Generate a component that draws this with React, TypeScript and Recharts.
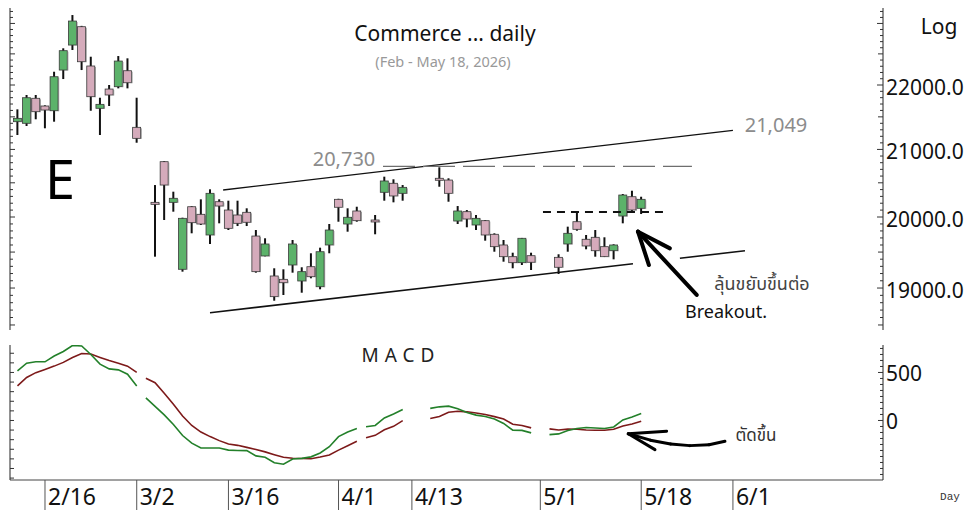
import React from 'react';
import { ComposedChart, Bar, Line, XAxis, YAxis, ReferenceLine } from 'recharts';

// ---- candles (slot = trading-weekday index from 2/11; holidays leave empty slots) ----
const candleDate = ['2/11','2/12','2/13','2/16','2/17','2/18','2/19','2/20','2/23','2/24','2/25','2/26','2/27','3/2',
  '3/4','3/5','3/6','3/9','3/10','3/11','3/12','3/13','3/16','3/17','3/18','3/19','3/20','3/23','3/24','3/25','3/26','3/27','3/30','3/31','4/1','4/2','4/3',
  '4/7','4/8','4/9','4/10',
  '4/16','4/17','4/20','4/21','4/22','4/23','4/24','4/27','4/28','4/29','4/30',
  '5/5','5/6','5/7','5/8','5/11','5/12','5/13','5/14','5/15','5/18'];
const candleSlot = [0,1,2,3,4,5,6,7,8,9,10,11,12,13,
  15,16,17,18,19,20,21,22,23,24,25,26,27,28,29,30,31,32,33,34,35,36,37,
  39,40,41,42,
  46,47,48,49,50,51,52,53,54,55,56,
  59,60,61,62,63,64,65,66,67,68];
const openPx = [21425,21400,21790,21669,21595,22239,22644,22946,22304,21633,21936,21973,22228,21338,
  20213,20815,20213,19259,20149,20039,19742,20222,20101,20029,20068,19727,19445,19166,19120,19319,19097,19295,19018,19600,20257,19899,20087,
  19957,20360,20493,20345,
  20567,20541,19942,20077,19885,19947,19752,19600,19435,19351,19449,
  19426,19614,19932,19681,19709,19576,19519,20014,20295,20126];
const highPx = [21617,21842,21842,21680,22212,22591,23140,22960,22454,21799,22000,22465,22428,21799,
  20467,20825,20369,19990,20159,20257,20404,20257,20237,20237,20126,19813,19695,19273,19259,19671,19287,19483,19562,19899,20265,20126,20149,
  20029,20591,20552,20467,
  20731,20567,20159,20101,20029,19957,19766,19671,19491,19700,19491,
  19469,19861,20077,19742,19813,19709,19610,20335,20383,20295];
const lowPx = [21220,21358,21462,21323,21425,22095,22563,22239,21595,21220,21669,21947,21947,21102,
  19435,19957,20077,19226,19766,19885,19614,19909,19813,19870,19870,19212,19440,18827,18905,19212,18936,19134,18983,19483,19932,19789,19932,
  19752,20237,20213,20237,
  20442,20222,19899,19852,19813,19661,19505,19365,19273,19319,19249,
  19194,19505,19803,19539,19435,19430,19398,19909,20077,20043];
const closePx = [21477,21799,21580,21606,22132,22552,23040,22373,21815,21695,21842,22384,22036,21169,
  20184,20467,20272,19981,19918,19899,20345,20159,19837,19909,19924,19226,19614,18882,19073,19614,19226,19156,19505,19813,20141,19996,19947,
  19932,20527,20306,20433,
  20541,20345,20087,19971,19981,19742,19576,19435,19351,19695,19357,
  19287,19766,19823,19586,19519,19435,19600,20320,20101,20257];

// ---- MACD ----
const macdSlot = [0,1,2,3,4,5,6,7,8,9,10,11,12,13,
  14,15,16,17,18,19,20,21,22,23,24,25,26,27,28,29,30,31,32,33,34,35,36,37,
  38,39,40,41,42,
  45,46,47,48,49,50,51,52,53,54,55,56,
  58,59,60,61,62,63,64,65,66,67,68];
const macdValue = [517,597,611,611,671,718,781,776,687,587,537,527,482,360,
  236,147,58,-42,-157,-236,-286,-286,-286,-309,-312,-314,-369,-383,-440,-456,-401,-395,-379,-339,-273,-168,-121,-84,
  -66,-52,26,68,115,
  126,142,149,121,84,56,42,16,-31,-102,-103,-129,
  -147,-140,-105,-84,-73,-79,-84,-68,5,37,73];
const signalValue = [360,448,498,531,566,605,655,697,692,657,624,597,566,500,
  440,393,283,168,47,-52,-121,-168,-210,-246,-259,-280,-302,-327,-356,-383,-394,-396,-398,-381,-360,-309,-264,-217,
  -181,-155,-97,-61,-2,
  21,42,86,96,90,78,63,40,16,-39,-52,-77,
  -88,-99,-90,-92,-99,-102,-102,-92,-58,-36,-7];
const macdSegmentStart = [0, 14, 38, 45, 58];

// ---- axis labels ----
const dateTickSlot = [3, 13, 23, 35, 43, 57, 68, 78];
const dateTickLabel = ['2/16', '3/2', '3/16', '4/1', '4/13', '5/1', '5/18', '6/1'];
const priceLabelValues = [19000, 20000, 21000, 22000];
const macdLabelValues = [0, 500];

const X_DOMAIN: [number, number] = [-0.815, 94.36];
const PRICE_DOMAIN: [number, number] = [18433, 23258];
const MACD_DOMAIN: [number, number] = [-620, 786];

const priceTicks: number[] = [];
for (let p = 18500; p <= 23200; p += 100) priceTicks.push(p);
const macdLeftTicks: number[] = [];
for (let v = -600; v <= 700; v += 100) macdLeftTicks.push(v);
const macdRightTicks: number[] = [];
for (let v = -562.5; v <= 750; v += 62.5) macdRightTicks.push(v);

const GREEN = '#5cb26a';
const PINK = '#d5abbb';
const FONT = "'Noto Sans', 'Open Sans', 'DejaVu Sans', sans-serif";
const THAI_FONT = "'Noto Sans Thai', 'Tahoma', 'Leelawadee UI', 'Noto Sans', 'DejaVu Sans', sans-serif";

const candles = candleSlot.map((s, i) => ({
  slot: s,
  date: candleDate[i],
  open: openPx[i],
  high: highPx[i],
  low: lowPx[i],
  close: closePx[i],
  range: [lowPx[i], highPx[i]],
}));

const macdRows: any[] = [];
for (let s = 0; s <= 68; s++) {
  const idx = macdSlot.indexOf(s);
  const row: any = { slot: s, mA: null, mB: null, sA: null, sB: null };
  if (idx >= 0) {
    let seg = 0;
    macdSegmentStart.forEach((st, k) => { if (s >= st) seg = k; });
    const key = seg % 2 === 0 ? 'A' : 'B';
    row['m' + key] = macdValue[idx];
    row['s' + key] = signalValue[idx];
  }
  macdRows.push(row);
}

const Candle = (props: any) => {
  const { x, y, width, height, payload } = props;
  if (x == null || y == null || height == null || !payload) return null;
  const cx = x + width / 2;
  const yTop = Math.min(y, y + height);
  const yBot = Math.max(y, y + height);
  const lh = Math.log(payload.high);
  const ll = Math.log(payload.low);
  const py = (p: number) => yTop + (yBot - yTop) * (lh - Math.log(p)) / (lh - ll);
  const yo = py(payload.open);
  const yc = py(payload.close);
  const top = Math.min(yo, yc);
  const bh = Math.max(Math.abs(yc - yo), 2);
  const up = payload.close >= payload.open;
  return (
    <g>
      <line x1={cx} x2={cx} y1={yTop} y2={yBot} stroke="#111" strokeWidth={2} />
      <rect x={cx - 4} y={top} width={8} height={bh} fill={up ? GREEN : PINK} stroke="#3a3a3a" strokeWidth={0.8} />
      <line x1={cx + 4.6} x2={cx + 4.6} y1={top + 1} y2={top + bh + 0.5} stroke="#777" strokeWidth={0.8} />
    </g>
  );
};

const LeftPriceTick = (props: any) => {
  const { x, y, payload } = props;
  const v = payload.value;
  const len = v % 500 === 0 ? 5 : 3;
  return <line x1={x} x2={x + len} y1={y} y2={y} stroke="#333" strokeWidth={1} />;
};

const RightPriceTick = (props: any) => {
  const { x, y, payload } = props;
  const v = payload.value;
  const major = v % 1000 === 0;
  const labelled = priceLabelValues.indexOf(v) >= 0;
  const len = major ? 6 : v % 500 === 0 ? 5 : 3;
  return (
    <g>
      <line x1={x - len} x2={x} y1={y} y2={y} stroke="#333" strokeWidth={1} />
      {labelled && (
        <text x={x + 3} y={y + 10} fontSize={21} fontFamily={FONT} fill="#111">{v.toFixed(1)}</text>
      )}
    </g>
  );
};

const LeftMacdTick = (props: any) => {
  const { x, y } = props;
  return <line x1={x} x2={x + 4} y1={y} y2={y} stroke="#333" strokeWidth={1} />;
};

const RightMacdTick = (props: any) => {
  const { x, y, payload } = props;
  const v = payload.value;
  const major = macdLabelValues.indexOf(v) >= 0;
  return (
    <g>
      <line x1={x - (major ? 5 : 3)} x2={x} y1={y} y2={y} stroke="#333" strokeWidth={1} />
      {major && (
        <text x={x + 3} y={y + 9} fontSize={21} fontFamily={FONT} fill="#111">{String(v)}</text>
      )}
    </g>
  );
};

const DateTick = (props: any) => {
  const { x, y, payload } = props;
  const i = dateTickSlot.indexOf(payload.value);
  return (
    <g>
      <line x1={x} x2={x} y1={y} y2={y + 32} stroke="#555" strokeWidth={1} />
      <text x={x + 3} y={y + 25} fontSize={23} fontFamily={FONT} fill="#111">{dateTickLabel[i]}</text>
    </g>
  );
};

const Label = ({ x, y, size, color = '#111', font = FONT, children, style = {} }: any) => (
  <div style={{
    position: 'absolute', left: x, top: y, transform: 'translate(-50%, -50%)',
    fontSize: size, color, fontFamily: font, lineHeight: 1, whiteSpace: 'nowrap', ...style,
  }}>{children}</div>
);

const seg = (pts: number[][]) => pts.map((p) => ({ x: p[0], y: p[1] }));

export default function App() {
  return (
    <div style={{ position: 'absolute', left: 0, top: 0, width: 966, height: 510, background: '#fff', overflow: 'hidden' }}>
      <div style={{ position: 'absolute', left: 0, top: 0 }}>
        <ComposedChart width={966} height={340} data={candles} margin={{ top: 8, right: 0, bottom: 10, left: 9 }}>
          <XAxis dataKey="slot" type="number" domain={X_DOMAIN} allowDataOverflow hide />
          <YAxis yAxisId="L" orientation="left" width={1} scale="log" type="number" domain={PRICE_DOMAIN}
            allowDataOverflow ticks={priceTicks} interval={0} tickLine={false} tickSize={0} tickMargin={0}
            axisLine={{ stroke: '#222' }} tick={(p: any) => <LeftPriceTick {...p} />} />
          <YAxis yAxisId="R" orientation="right" width={83} scale="log" type="number" domain={PRICE_DOMAIN}
            allowDataOverflow ticks={priceTicks} interval={0} tickLine={false} tickSize={0} tickMargin={0}
            axisLine={{ stroke: '#222' }} tick={(p: any) => <RightPriceTick {...p} />} />
          <Bar yAxisId="R" dataKey="range" barSize={9} shape={(p: any) => <Candle {...p} />} isAnimationActive={false} />
          {/* upper trend line */}
          <ReferenceLine yAxisId="R" segment={seg([[22.42, 20394], [78.0, 21292]])} stroke="#111" strokeWidth={1.3} />
          {/* lower trend line (interrupted by arrow) */}
          <ReferenceLine yAxisId="R" segment={seg([[20.99, 18664], [67.1, 19336]])} stroke="#111" strokeWidth={1.6} />
          <ReferenceLine yAxisId="R" segment={seg([[72.22, 19413], [79.31, 19519]])} stroke="#111" strokeWidth={1.6} />
          {/* 20,730 resistance */}
          <ReferenceLine yAxisId="R" segment={seg([[39.85, 20745], [73.53, 20745]])} stroke="#6e6e6e" strokeWidth={1.2} strokeDasharray="32 8" />
          {/* breakout level */}
          <ReferenceLine yAxisId="R" segment={seg([[57.29, 20072], [70.37, 20072]])} stroke="#111" strokeWidth={2} strokeDasharray="8 6" />
          {/* breakout arrow */}
          <ReferenceLine yAxisId="R" segment={seg([[67.65, 19789], [74.05, 18905]])} stroke="#000" strokeWidth={4} strokeLinecap="round" />
          <ReferenceLine yAxisId="R" segment={seg([[67.65, 19789], [71.13, 19552]])} stroke="#000" strokeWidth={4} strokeLinecap="round" />
          <ReferenceLine yAxisId="R" segment={seg([[67.65, 19789], [68.84, 19318]])} stroke="#000" strokeWidth={4} strokeLinecap="round" />
        </ComposedChart>
      </div>

      <div style={{ position: 'absolute', left: 0, top: 340 }}>
        <ComposedChart width={966} height={170} data={macdRows} margin={{ top: 5, right: 0, bottom: 0, left: 9 }}>
          <XAxis dataKey="slot" type="number" domain={X_DOMAIN} allowDataOverflow height={30}
            ticks={dateTickSlot} interval={0} tickLine={false} tickSize={0} tickMargin={0}
            axisLine={{ stroke: '#444' }} tick={(p: any) => <DateTick {...p} />} />
          <YAxis yAxisId="L" orientation="left" width={1} type="number" domain={MACD_DOMAIN} allowDataOverflow
            ticks={macdLeftTicks} interval={0} tickLine={false} tickSize={0} tickMargin={0}
            axisLine={{ stroke: '#222' }} tick={(p: any) => <LeftMacdTick {...p} />} />
          <YAxis yAxisId="R" orientation="right" width={83} type="number" domain={MACD_DOMAIN} allowDataOverflow
            ticks={macdRightTicks} interval={0} tickLine={false} tickSize={0} tickMargin={0}
            axisLine={{ stroke: '#222' }} tick={(p: any) => <RightMacdTick {...p} />} />
          <Line yAxisId="R" dataKey="sA" stroke="#7d1a1a" strokeWidth={1.6} dot={false} connectNulls={false} isAnimationActive={false} />
          <Line yAxisId="R" dataKey="sB" stroke="#7d1a1a" strokeWidth={1.6} dot={false} connectNulls={false} isAnimationActive={false} />
          <Line yAxisId="R" dataKey="mA" stroke="#23802a" strokeWidth={1.6} dot={false} connectNulls={false} isAnimationActive={false} />
          <Line yAxisId="R" dataKey="mB" stroke="#23802a" strokeWidth={1.6} dot={false} connectNulls={false} isAnimationActive={false} />
          {/* cross-up arrow */}
          <ReferenceLine yAxisId="R" segment={seg([[66.59, -139], [69.0, -205]])} stroke="#000" strokeWidth={3} strokeLinecap="round" />
          <ReferenceLine yAxisId="R" segment={seg([[69.0, -205], [71.2, -245]])} stroke="#000" strokeWidth={3} strokeLinecap="round" />
          <ReferenceLine yAxisId="R" segment={seg([[71.2, -245], [73.3, -262]])} stroke="#000" strokeWidth={3} strokeLinecap="round" />
          <ReferenceLine yAxisId="R" segment={seg([[73.3, -262], [75.4, -252]])} stroke="#000" strokeWidth={3} strokeLinecap="round" />
          <ReferenceLine yAxisId="R" segment={seg([[75.4, -252], [77.13, -217]])} stroke="#000" strokeWidth={3} strokeLinecap="round" />
          <ReferenceLine yAxisId="R" segment={seg([[66.59, -139], [70.77, -112]])} stroke="#000" strokeWidth={3} strokeLinecap="round" />
          <ReferenceLine yAxisId="R" segment={seg([[66.59, -139], [69.5, -304]])} stroke="#000" strokeWidth={3} strokeLinecap="round" />
        </ComposedChart>
      </div>

      <Label x={445} y={33} size={21}>Commerce ... daily</Label>
      <Label x={443} y={61} size={14.5} color="#999">(Feb - May 18, 2026)</Label>
      <Label x={939} y={26} size={21}>Log</Label>
      <Label x={60} y={178} size={54} color="#000">E</Label>
      <Label x={344} y={159} size={20} color="#8c8c8c">20,730</Label>
      <Label x={776} y={125} size={20} color="#8c8c8c">21,049</Label>
      <Label x={762} y={285} size={18} color="#444" font={THAI_FONT}>ลุ้นขยับขึ้นต่อ</Label>
      <Label x={726} y={311} size={18} color="#111">Breakout.</Label>
      <Label x={401} y={355} size={19} color="#222" style={{ letterSpacing: 6 }}>MACD</Label>
      <Label x={756} y={436} size={17} color="#333" font={THAI_FONT}>ตัดขึ้น</Label>
      <Label x={950} y={497} size={11} color="#333" font="'Liberation Mono', 'DejaVu Sans Mono', monospace">Day</Label>
    </div>
  );
}
